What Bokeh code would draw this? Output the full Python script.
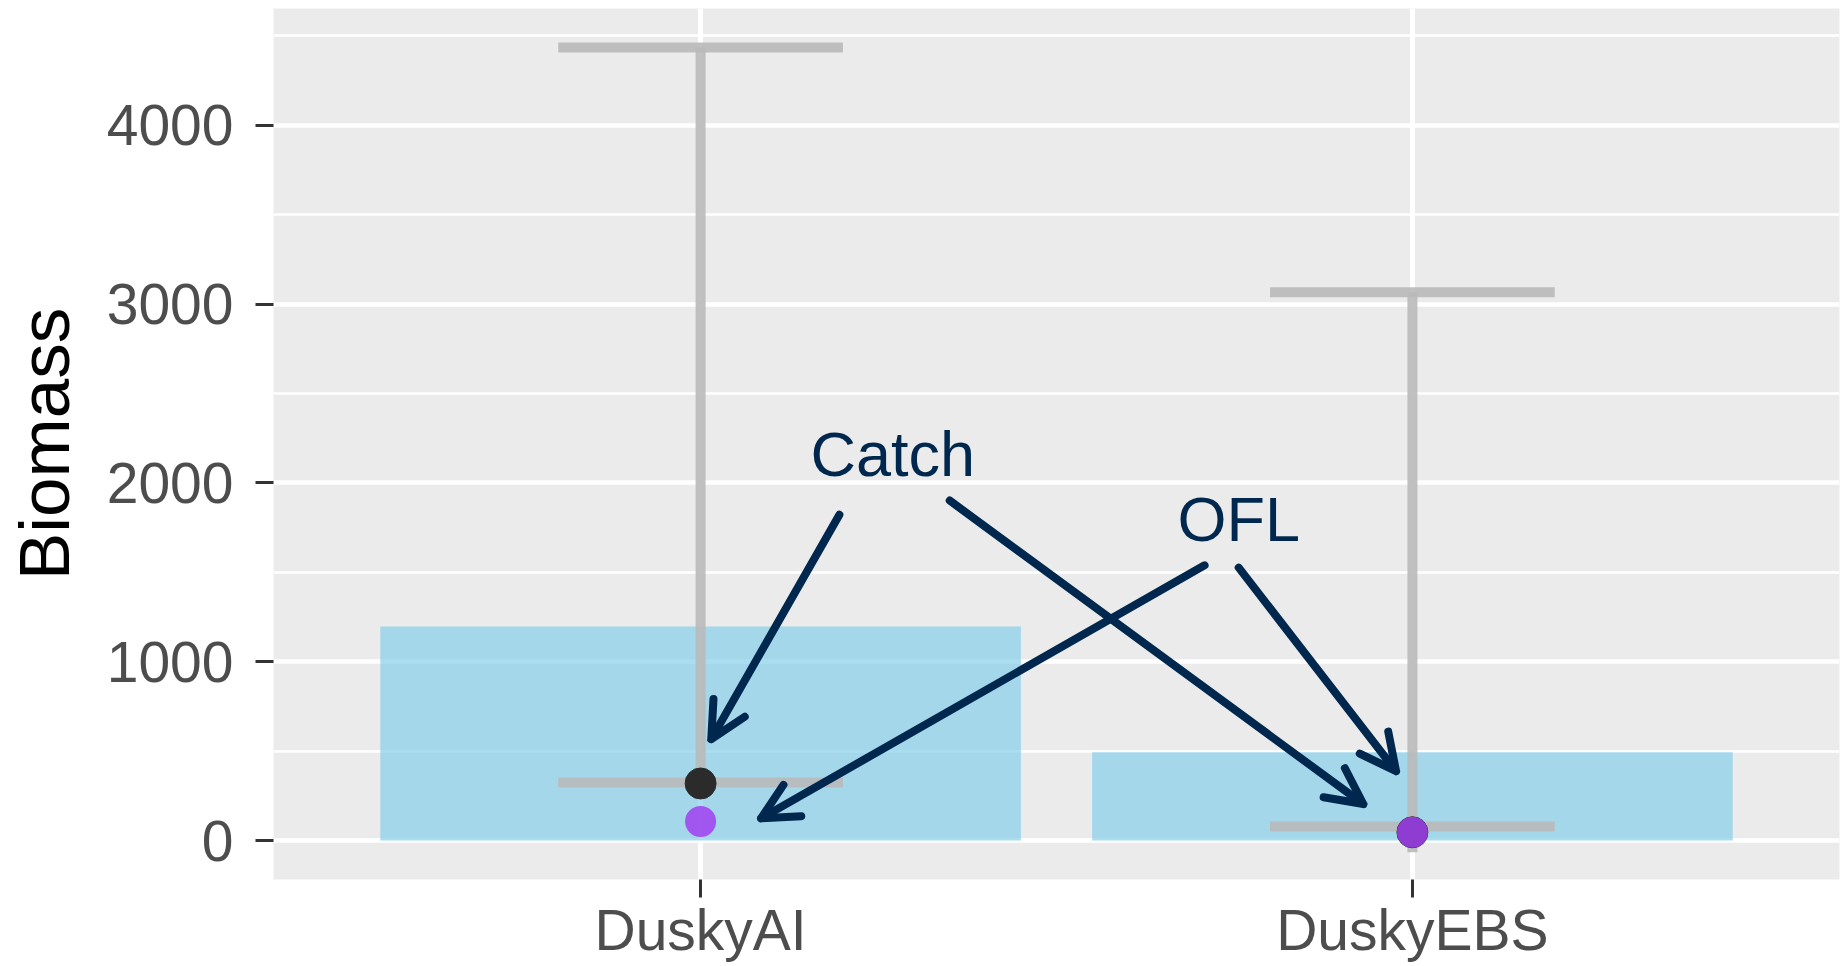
from bokeh.plotting import figure
from bokeh.models import (Range1d, FixedTicker, ColumnDataSource, Arrow, OpenHead)
from bokeh.core.properties import value
from bokeh.embed import file_html
from bokeh.resources import INLINE

# ---- data ----
stocks = ["DuskyAI", "DuskyEBS"]
biomass = [1197, 493]
err_upper = [4435, 3066]
err_lower = [324, -65]
cap_lower = [324, 78]
catch = [319, 46]
ofl = [106, 46]
y_ticks = [0, 1000, 2000, 3000, 4000]
y_minor = [500, 1500, 2500, 3500, 4500]

# annotation arrows (data coordinates)
arrow_x0 = [1.195, 1.350, 1.708, 1.756]
arrow_y0 = [1822, 1901, 1539, 1526]
arrow_x1 = [1.015, 1.931, 1.085, 1.977]
arrow_y1 = [567, 204, 124, 388]
label_text = ["Catch", "OFL"]
label_x = [1.270, 1.756]
label_y = [2161, 1797]

pos = [i + 1 for i in range(len(stocks))]

FONT = "Liberation Sans"
NAVY = "#00284F"

p = figure(width=1845, height=966, output_backend="svg", toolbar_location=None,
           x_range=Range1d(0.4, 2.6), y_range=Range1d(-218, 4653),
           min_border_left=273, min_border_right=6, min_border_top=8,
           min_border_bottom=87)
p.background_fill_color = "#EBEBEB"
p.border_fill_color = "white"
p.outline_line_color = None

# axes
p.xaxis.ticker = FixedTicker(ticks=pos)
p.xaxis.major_label_overrides = {pp: s for pp, s in zip(pos, stocks)}
p.yaxis.ticker = FixedTicker(ticks=y_ticks, minor_ticks=y_minor)
p.yaxis.axis_label = "Biomass"
for ax in (p.xaxis[0], p.yaxis[0]):
    ax.axis_line_color = None
    ax.major_tick_line_color = "#333333"
    ax.major_tick_line_width = 3
    ax.major_tick_out = 18
    ax.major_tick_in = 0
    ax.minor_tick_line_color = None
    ax.major_label_text_font = FONT
    ax.major_label_text_font_size = "57px"
    ax.major_label_text_color = "#4D4D4D"
p.yaxis.major_label_standoff = 22
p.xaxis.major_label_standoff = 0
p.yaxis.axis_label_text_font = FONT
p.yaxis.axis_label_text_font_size = "71px"
p.yaxis.axis_label_text_font_style = "normal"
p.yaxis.axis_label_text_color = "black"
p.yaxis.axis_label_standoff = 20

# grids
p.xgrid.grid_line_color = "white"
p.xgrid.grid_line_width = 5
p.ygrid.grid_line_color = "white"
p.ygrid.grid_line_width = 4.5
p.ygrid.minor_grid_line_color = "white"
p.ygrid.minor_grid_line_width = 2.3

# bars
p.vbar(x=pos, top=biomass, bottom=0, width=0.9, fill_color="skyblue",
       fill_alpha=0.7, line_color=None)

# error bars
gray = "#B9B9B9"
p.segment(x0=pos, y0=err_lower, x1=pos, y1=err_upper, line_color=gray,
          line_alpha=0.9, line_width=10)
p.segment(x0=[x - 0.2 for x in pos], y0=err_upper, x1=[x + 0.2 for x in pos],
          y1=err_upper, line_color=gray, line_alpha=0.9, line_width=10)
p.segment(x0=[x - 0.2 for x in pos], y0=cap_lower, x1=[x + 0.2 for x in pos],
          y1=cap_lower, line_color=gray, line_alpha=0.9, line_width=10)

# points
p.scatter(x=pos, y=catch, size=31, fill_color="#2B2B2B", line_color="#2B2B2B")
p.scatter(x=pos, y=ofl, size=31, fill_color="#A040F0", line_color=None,
          fill_alpha=0.85)

# arrows
src = ColumnDataSource(dict(x0=arrow_x0, y0=arrow_y0, x1=arrow_x1, y1=arrow_y1))
p.add_layout(Arrow(source=src, x_start="x0", y_start="y0", x_end="x1", y_end="y1",
                   line_color=NAVY, line_width=8, line_cap="round",
                   end=OpenHead(size=36, line_color=NAVY, line_width=8,
                                line_cap="round", line_join="round")))

p.text(x=label_x, y=label_y, text=label_text, text_font=value(FONT),
       text_font_size=value("63px"), text_color=NAVY, text_align="center",
       text_baseline="alphabetic")

open("out.html", "w").write(file_html(p, INLINE))
